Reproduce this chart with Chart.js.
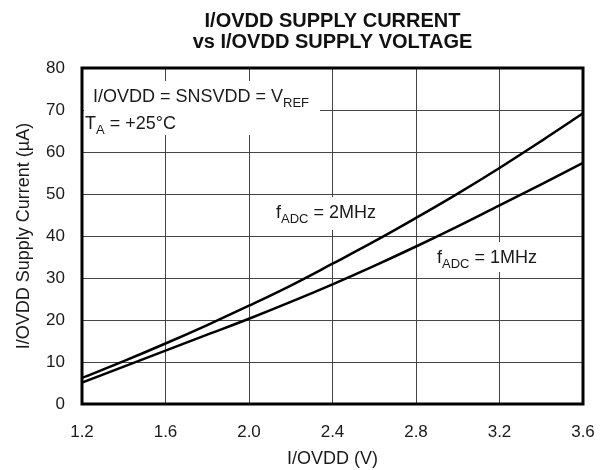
<!DOCTYPE html>
<html>
<head>
<meta charset="utf-8">
<script src="https://cdn.jsdelivr.net/npm/chart.js@4.4.0/dist/chart.umd.min.js"></script>
<style>
  html, body { margin: 0; padding: 0; background: #fff; }
</style>
</head>
<body>
<canvas id="supply" width="603" height="470"></canvas>
<script>
// I/OVDD supply voltage (V)
const voltage = [1.2, 1.4, 1.6, 1.8, 2.0, 2.2, 2.4, 2.6, 2.8, 3.0, 3.2, 3.4, 3.6];
// supply current (uA)
const current2MHz = [6.2, 10.2, 14.4, 18.8, 23.4, 28.2, 33.4, 38.7, 44.3, 50.1, 56.2, 62.6, 69.2];
const current1MHz = [5.1, 8.9, 12.7, 16.5, 20.3, 24.3, 28.5, 32.9, 37.5, 42.3, 47.3, 52.3, 57.4];

const titleLines = ['I/OVDD SUPPLY CURRENT', 'vs I/OVDD SUPPLY VOLTAGE'];
const FONT = '"Liberation Sans", Arial, Helvetica, sans-serif';

function pts(ys) {
  return voltage.map((v, i) => ({ x: v, y: ys[i] }));
}

// text with a subscript part, e.g. f_ADC
function subText(ctx, parts, x, y) {
  let cx = x;
  parts.forEach(p => {
    if (p.sub) {
      ctx.font = '13px ' + FONT;
      ctx.fillText(p.t, cx, y + 5);
    } else {
      ctx.font = '18px ' + FONT;
      ctx.fillText(p.t, cx, y);
    }
    cx += ctx.measureText(p.t).width;
  });
}

const notes = {
  id: 'notes',
  beforeDatasetsDraw(chart) {
    const ctx = chart.ctx;
    const a = chart.chartArea;
    ctx.save();
    // title, centred over the plot
    ctx.fillStyle = '#111';
    ctx.font = 'bold 20px ' + FONT;
    ctx.textAlign = 'center';
    const mid = (a.left + a.right) / 2;
    ctx.fillText(titleLines[0], mid, 27);
    ctx.fillText(titleLines[1], mid, 47.5);
    ctx.textAlign = 'left';

    // label backgrounds hide the grid
    ctx.fillStyle = '#fff';
    ctx.fillRect(a.left + 2, 81, 320 - a.left - 2, 54);
    ctx.fillRect(270, 197, 115, 33);
    ctx.fillRect(432, 242, 113, 30);
    ctx.fillStyle = '#1a1a1a';
    subText(ctx, [{ t: 'I/OVDD = SNSVDD = V' }, { t: 'REF', sub: true }], 93, 102);
    subText(ctx, [{ t: 'T' }, { t: 'A', sub: true }, { t: ' = +25°C' }], 85, 129);
    subText(ctx, [{ t: 'f' }, { t: 'ADC', sub: true }, { t: ' = 2MHz' }], 276, 218);
    subText(ctx, [{ t: 'f' }, { t: 'ADC', sub: true }, { t: ' = 1MHz' }], 437, 263);
    ctx.restore();
  },
  afterDatasetsDraw(chart) {
    const ctx = chart.ctx;
    const a = chart.chartArea;
    ctx.save();
    ctx.strokeStyle = '#000';
    ctx.lineWidth = 3;
    ctx.strokeRect(a.left, a.top, a.right - a.left, a.bottom - a.top);
    ctx.restore();
  }
};

new Chart(document.getElementById('supply'), {
  type: 'line',
  data: {
    datasets: [{
      label: 'fADC = 2MHz',
      data: pts(current2MHz),
      borderColor: '#000',
      borderWidth: 2.5,
      pointRadius: 0,
      tension: 0.4,
      fill: false
    }, {
      label: 'fADC = 1MHz',
      data: pts(current1MHz),
      borderColor: '#000',
      borderWidth: 2.5,
      pointRadius: 0,
      tension: 0.4,
      fill: false
    }]
  },
  options: {
    responsive: false,
    animation: false,
    layout: { padding: { left: 13, right: 20, top: 68, bottom: 0 } },
    plugins: {
      legend: { display: false },
      tooltip: { enabled: false },
      title: { display: false }
    },
    scales: {
      x: {
        type: 'linear',
        min: 1.2,
        max: 3.6,
        // fixed axis band so the plot sits where the original does
        afterFit: s => { s.height = 66; s.paddingLeft = 0; s.paddingRight = 0; },
        ticks: {
          stepSize: 0.4,
          color: '#1a1a1a',
          font: { family: FONT, size: 17 },
          padding: 18,
          callback: v => v.toFixed(1)
        },
        grid: { color: '#444', lineWidth: 1, drawTicks: false },
        border: { display: false },
        title: {
          display: true,
          text: 'I/OVDD (V)',
          color: '#1a1a1a',
          font: { family: FONT, size: 18 },
          padding: { top: 0, bottom: 0 }
        }
      },
      y: {
        min: 0,
        max: 80,
        afterFit: s => { s.width = 69; },
        ticks: {
          stepSize: 10,
          color: '#1a1a1a',
          font: { family: FONT, size: 17 },
          padding: 17
        },
        grid: { color: '#444', lineWidth: 1, drawTicks: false },
        border: { display: false },
        title: {
          display: true,
          text: 'I/OVDD Supply Current (µA)',
          color: '#1a1a1a',
          font: { family: FONT, size: 18 },
          padding: { top: 0, bottom: 0 }
        }
      }
    }
  },
  plugins: [notes]
});
</script>
</body>
</html>
